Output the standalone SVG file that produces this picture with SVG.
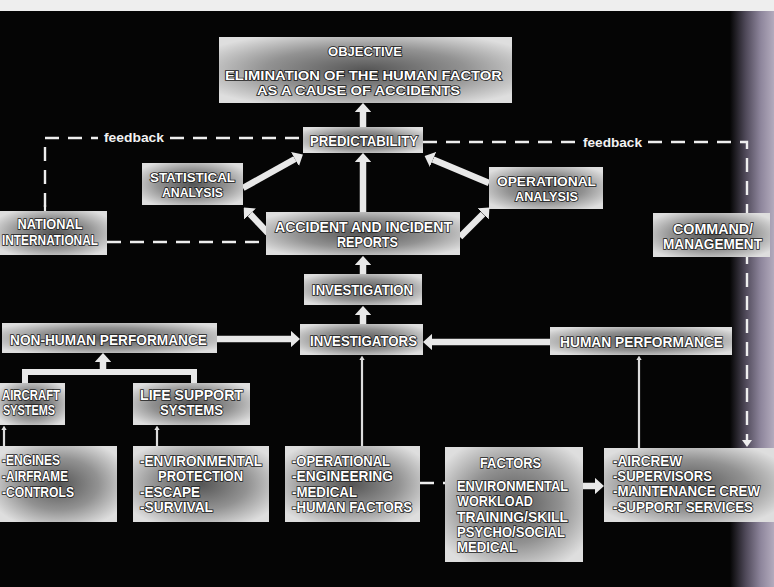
<svg xmlns="http://www.w3.org/2000/svg" width="774" height="587" viewBox="0 0 774 587">
<defs>
<radialGradient id="bx" cx="0.5" cy="0.5" r="0.62">
<stop offset="0" stop-color="#555555"/>
<stop offset="0.55" stop-color="#929292"/>
<stop offset="1" stop-color="#dedede"/>
</radialGradient>
<linearGradient id="band" gradientUnits="userSpaceOnUse" x1="730" y1="0" x2="774" y2="0">
<stop offset="0" stop-color="#050505"/>
<stop offset="0.35" stop-color="#4e4858"/>
<stop offset="0.7" stop-color="#8e869c"/>
<stop offset="1" stop-color="#b3abbd"/>
</linearGradient>
<marker id="ah" viewBox="0 0 10 10" refX="0" refY="5" markerWidth="1.4" markerHeight="2.5" orient="auto" preserveAspectRatio="none">
<path d="M0,0 L10,5 L0,10 z" fill="#e8e8e8"/>
</marker>
<marker id="sh" viewBox="0 0 10 10" refX="0" refY="5" markerWidth="2" markerHeight="2.4" orient="auto" preserveAspectRatio="none">
<path d="M0,0 L10,5 L0,10 z" fill="#dddddd"/>
</marker>
</defs>
<style>
.box{fill:url(#bx);}
.t{font-family:"Liberation Sans",Arial,sans-serif;font-weight:bold;font-size:14px;fill:#ffffff;stroke:#1a1a1a;stroke-width:1.6px;paint-order:stroke fill;}
.s{font-size:12.5px;}
.c{text-anchor:middle;}
.fb{font-family:"Liberation Sans",Arial,sans-serif;font-weight:bold;font-size:13px;fill:#f2f2f2;}
.thick{stroke:#e8e8e8;stroke-width:6.5;fill:none;marker-end:url(#ah);}
.bar{stroke:#e8e8e8;stroke-width:6;fill:none;}
.thin{stroke:#dddddd;stroke-width:2.2;fill:none;marker-end:url(#sh);}
.dash{stroke:#eeeeee;stroke-width:2.4;fill:none;stroke-dasharray:14 9;}
</style>
<rect x="0" y="0" width="774" height="587" fill="#050505"/>
<rect x="730" y="0" width="44" height="587" fill="url(#band)"/>
<rect x="0" y="0" width="774" height="11" fill="#eeeeee"/>

<g id="connectors">
<path class="dash" d="M45,207 V138 H98"/>
<path class="dash" d="M170,138 H303"/>
<path class="dash" d="M423,142 H577"/>
<path class="dash" d="M648,142 H747 V440"/>
<path d="M747,440 L742,440 L747,447 L752,440 z" fill="#eeeeee"/>
<path d="M45,205 V211" stroke="#eeeeee" stroke-width="2.2"/>
<path class="dash" d="M107,242 H266"/>
<path class="dash" d="M420,483 H445"/>
<line class="thick" x1="363" y1="127" x2="363" y2="112"/>
<line class="thick" x1="363" y1="212" x2="363" y2="162"/>
<line class="thick" x1="363" y1="274" x2="363" y2="265"/>
<line class="thick" x1="363" y1="324" x2="363" y2="315"/>
<line class="thick" x1="243" y1="188" x2="295" y2="159"/>
<line class="thick" x1="268" y1="233" x2="250" y2="214"/>
<line class="thick" x1="489" y1="183" x2="433" y2="159.5"/>
<line class="thick" x1="460" y1="237" x2="483" y2="214"/>
<line class="thick" x1="217" y1="339" x2="291" y2="339"/>
<line class="thick" x1="550" y1="342" x2="432" y2="342"/>
<path class="bar" d="M25,383 V372 H194 V383"/>
<line class="thick" x1="103" y1="373" x2="103" y2="362"/>
<line class="thick" x1="583" y1="486" x2="595" y2="486"/>
<line class="thin" x1="362" y1="446" x2="362" y2="360"/>
<line class="thin" x1="639" y1="448" x2="639" y2="360"/>
<line class="thin" x1="4" y1="446" x2="4" y2="430"/>
<line class="thin" x1="157" y1="446" x2="157" y2="430"/>
<text class="fb" x="104" y="142" textLength="60" lengthAdjust="spacingAndGlyphs">feedback</text>
<text class="fb" x="583" y="147" textLength="59" lengthAdjust="spacingAndGlyphs">feedback</text>
</g>

<g id="objective">
<rect class="box" x="219" y="37" width="293" height="66"/>
<text class="t c" x="365" y="56" style="font-size:12.5px" textLength="74" lengthAdjust="spacingAndGlyphs">OBJECTIVE</text>
<text class="t c s" x="363.5" y="80" textLength="277" lengthAdjust="spacingAndGlyphs">ELIMINATION OF THE HUMAN FACTOR</text>
<text class="t c s" x="358.5" y="95" textLength="203" lengthAdjust="spacingAndGlyphs">AS A CAUSE OF ACCIDENTS</text>
</g>
<g id="predictability">
<rect class="box" x="303" y="127" width="120" height="26"/>
<text class="t c" x="364" y="146" textLength="108" lengthAdjust="spacingAndGlyphs">PREDICTABILITY</text>
</g>
<g id="statistical">
<rect class="box" x="142" y="163" width="101" height="42"/>
<text class="t c s" x="192.5" y="182" textLength="85" lengthAdjust="spacingAndGlyphs">STATISTICAL</text>
<text class="t c s" x="192.5" y="197" textLength="61" lengthAdjust="spacingAndGlyphs">ANALYSIS</text>
</g>
<g id="operational-analysis">
<rect class="box" x="489" y="167" width="114" height="42"/>
<text class="t c s" x="546.5" y="186" textLength="99" lengthAdjust="spacingAndGlyphs">OPERATIONAL</text>
<text class="t c s" x="546.5" y="201" textLength="63" lengthAdjust="spacingAndGlyphs">ANALYSIS</text>
</g>
<g id="reports">
<rect class="box" x="266" y="212" width="194" height="43"/>
<text class="t c" x="363.5" y="232" textLength="177" lengthAdjust="spacingAndGlyphs">ACCIDENT AND INCIDENT</text>
<text class="t c" x="367.5" y="247" textLength="61" lengthAdjust="spacingAndGlyphs">REPORTS</text>
</g>
<g id="national">
<rect class="box" x="0" y="211" width="107" height="44"/>
<text class="t c" x="50" y="229" textLength="65" lengthAdjust="spacingAndGlyphs">NATIONAL</text>
<text class="t" x="2" y="245" textLength="96" lengthAdjust="spacingAndGlyphs">INTERNATIONAL</text>
</g>
<g id="command">
<rect class="box" x="653" y="213" width="117" height="44"/>
<text class="t c" x="713" y="234" textLength="80" lengthAdjust="spacingAndGlyphs">COMMAND/</text>
<text class="t c" x="712.5" y="249" textLength="99" lengthAdjust="spacingAndGlyphs">MANAGEMENT</text>
</g>
<g id="investigation">
<rect class="box" x="304" y="274" width="118" height="31"/>
<text class="t c" x="362.5" y="295" textLength="101" lengthAdjust="spacingAndGlyphs">INVESTIGATION</text>
</g>
<g id="investigators">
<rect class="box" x="300" y="324" width="123" height="31"/>
<text class="t c" x="363.5" y="346" textLength="107" lengthAdjust="spacingAndGlyphs">INVESTIGATORS</text>
</g>
<g id="non-human">
<rect class="box" x="2" y="323" width="215" height="30"/>
<text class="t" x="10" y="345" textLength="197" lengthAdjust="spacingAndGlyphs">NON-HUMAN PERFORMANCE</text>
</g>
<g id="human">
<rect class="box" x="550" y="327" width="182" height="28"/>
<text class="t" x="560" y="347" textLength="163" lengthAdjust="spacingAndGlyphs">HUMAN PERFORMANCE</text>
</g>
<g id="aircraft">
<rect class="box" x="0" y="383" width="65" height="42"/>
<text class="t" x="2" y="400" textLength="58" lengthAdjust="spacingAndGlyphs">AIRCRAFT</text>
<text class="t" x="3" y="415" textLength="52" lengthAdjust="spacingAndGlyphs">SYSTEMS</text>
</g>
<g id="life-support">
<rect class="box" x="133" y="383" width="117" height="42"/>
<text class="t" x="140" y="400" textLength="103" lengthAdjust="spacingAndGlyphs">LIFE SUPPORT</text>
<text class="t" x="160" y="415" textLength="63" lengthAdjust="spacingAndGlyphs">SYSTEMS</text>
</g>
<g id="engines">
<rect class="box" x="0" y="446" width="117" height="76"/>
<text class="t" x="2" y="465" textLength="58" lengthAdjust="spacingAndGlyphs">-ENGINES</text>
<text class="t" x="2" y="481" textLength="66" lengthAdjust="spacingAndGlyphs">-AIRFRAME</text>
<text class="t" x="2" y="497" textLength="72" lengthAdjust="spacingAndGlyphs">-CONTROLS</text>
</g>
<g id="environmental">
<rect class="box" x="133" y="446" width="136" height="76"/>
<text class="t" x="140" y="466" textLength="122" lengthAdjust="spacingAndGlyphs">-ENVIRONMENTAL</text>
<text class="t" x="158" y="481" textLength="85" lengthAdjust="spacingAndGlyphs">PROTECTION</text>
<text class="t" x="140" y="497" textLength="60" lengthAdjust="spacingAndGlyphs">-ESCAPE</text>
<text class="t" x="140" y="512" textLength="73" lengthAdjust="spacingAndGlyphs">-SURVIVAL</text>
</g>
<g id="disciplines">
<rect class="box" x="285" y="446" width="135" height="76"/>
<text class="t" x="292" y="466" textLength="98" lengthAdjust="spacingAndGlyphs">-OPERATIONAL</text>
<text class="t" x="292" y="481" textLength="101" lengthAdjust="spacingAndGlyphs">-ENGINEERING</text>
<text class="t" x="292" y="497" textLength="65" lengthAdjust="spacingAndGlyphs">-MEDICAL</text>
<text class="t" x="292" y="512" textLength="120" lengthAdjust="spacingAndGlyphs">-HUMAN FACTORS</text>
</g>
<g id="factors">
<rect class="box" x="445" y="447" width="138" height="115"/>
<text class="t" x="480" y="468" textLength="61" lengthAdjust="spacingAndGlyphs">FACTORS</text>
<text class="t" x="457" y="491" textLength="111" lengthAdjust="spacingAndGlyphs">ENVIRONMENTAL</text>
<text class="t" x="457" y="506" textLength="76" lengthAdjust="spacingAndGlyphs">WORKLOAD</text>
<text class="t" x="457" y="522" textLength="111" lengthAdjust="spacingAndGlyphs">TRAINING/SKILL</text>
<text class="t" x="457" y="537" textLength="108" lengthAdjust="spacingAndGlyphs">PSYCHO/SOCIAL</text>
<text class="t" x="457" y="552" textLength="60" lengthAdjust="spacingAndGlyphs">MEDICAL</text>
</g>
<g id="personnel">
<rect class="box" x="604" y="448" width="170" height="74"/>
<text class="t" x="613" y="466" textLength="69" lengthAdjust="spacingAndGlyphs">-AIRCREW</text>
<text class="t" x="613" y="481" textLength="99" lengthAdjust="spacingAndGlyphs">-SUPERVISORS</text>
<text class="t" x="613" y="496" textLength="147" lengthAdjust="spacingAndGlyphs">-MAINTENANCE CREW</text>
<text class="t" x="613" y="512" textLength="140" lengthAdjust="spacingAndGlyphs">-SUPPORT SERVICES</text>
</g>
</svg>
